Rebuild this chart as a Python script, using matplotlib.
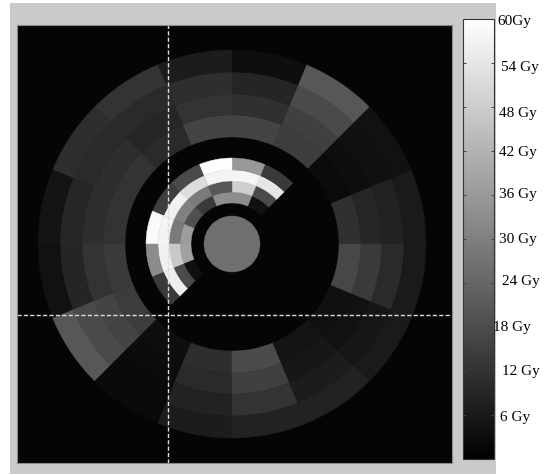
import matplotlib
matplotlib.use('Agg')
from matplotlib import pyplot as plt
from matplotlib.patches import Wedge, Circle, Rectangle
from matplotlib.collections import PatchCollection
from matplotlib.colors import Normalize
import numpy

# dose per segment [Gy], rings listed inner -> outer
# inner block: 8 sectors of 22.5 deg starting at 45 deg (ccw)
inner_doses = [
    [4.2, 17.4, 54.1, 13.6],
    [33.0, 48.7, 57.6, 36.0],
    [33.4, 20.7, 57.4, 59.3],
    [13.6, 28.7, 51.8, 17.4],
    [18.8, 30.1, 56.5, 14.6],
    [36.7, 28.7, 57.4, 58.8],
    [37.6, 47.0, 56.5, 33.0],
    [3.8, 17.4, 56.0, 13.6],
]
# outer block: 16 sectors of 22.5 deg starting at 0 deg (ccw)
outer_doses = [
    [11.3, 9.0, 8.0, 6.1],
    [2.8, 3.3, 3.8, 4.0],
    [14.4, 15.1, 17.4, 20.5],
    [16.0, 11.3, 8.7, 3.3],
    [16.0, 12.0, 10.8, 6.6],
    [9.9, 9.0, 9.9, 12.0],
    [12.0, 10.8, 9.9, 10.8],
    [12.0, 10.8, 9.0, 4.9],
    [13.6, 12.0, 8.7, 4.0],
    [14.1, 16.0, 17.4, 20.5],
    [3.5, 3.0, 2.5, 2.5],
    [10.8, 9.9, 8.0, 6.6],
    [17.6, 15.1, 12.0, 8.0],
    [4.7, 5.6, 6.6, 8.0],
    [3.8, 4.2, 5.2, 6.1],
    [16.7, 13.6, 9.9, 6.1],
]
core_dose = 26.4
background_dose = 1.2

core_radius = 28
inner_edges = [41, 52, 63, 74, 86]
outer_edges = [107, 129, 150, 172, 194]
inner_start = 45.0
outer_start = 0.0
sector_width = 22.5

cbar_ticks = [6, 12, 18, 24, 30, 36, 42, 48, 54]
cbar_labels = ['60Gy', '54 Gy', '48 Gy', '42 Gy', '36 Gy', '30 Gy', '24 Gy', '18 Gy', '12 Gy', '6 Gy']
label_x = [497, 501, 499, 499, 499, 499, 502, 493, 502, 500]   # pixels
label_y = [21.7, 68, 113, 153, 194, 240, 282, 328, 372, 417]   # pixels from top

crosshair_x = -64
crosshair_y = -71

W, H = 544, 475
fig = plt.figure(figsize=(W/100., H/100.), dpi=100)
fig.patch.set_facecolor('white')
fig.patches.append(Rectangle((10./W, 1-474./H), 486./W, 471./H,
                             transform=fig.transFigure, facecolor='#c9cac9',
                             edgecolor='none', zorder=-10))

ax = fig.add_axes([17./W, 1-463./H, 435./W, 438./H])
norm = Normalize(0, 60)
cmap = plt.get_cmap('gray')
ax.set_facecolor(cmap(norm(background_dose)))

patches = []
values = []
for k, rings in enumerate(inner_doses):
    t1 = inner_start + k*sector_width
    for j, d in enumerate(rings):
        r0, r1 = inner_edges[j], inner_edges[j+1]
        patches.append(Wedge((0, 0), r1, t1, t1+sector_width, width=r1-r0))
        values.append(d)
for k, rings in enumerate(outer_doses):
    t1 = outer_start + k*sector_width
    for j, d in enumerate(rings):
        r0, r1 = outer_edges[j], outer_edges[j+1]
        patches.append(Wedge((0, 0), r1, t1, t1+sector_width, width=r1-r0))
        values.append(d)
patches.append(Circle((0, 0), core_radius))
values.append(core_dose)

coll = PatchCollection(patches, cmap=cmap, norm=norm, edgecolor='face', linewidth=0.3)
coll.set_array(numpy.array(values))
ax.add_collection(coll)

ax.axvline(crosshair_x, color='#dcdcdc', lw=1.0, linestyle=(0, (3, 1.6)))
ax.axhline(crosshair_y, color='#dcdcdc', lw=1.0, linestyle=(0, (3, 1.6)))

ax.set_xlim(-215, 220)
ax.set_ylim(-219, 219)
ax.set_xticks([])
ax.set_yticks([])
for s in ax.spines.values():
    s.set_color('#8a8a8a')
    s.set_linewidth(0.8)

cax = fig.add_axes([463./W, 1-459./H, 31./W, 440./H])
cb = fig.colorbar(coll, cax=cax)
cb.outline.set_edgecolor('#333333')
cb.outline.set_linewidth(0.8)
cax.set_yticks(cbar_ticks)
cax.set_yticklabels([])
cax.tick_params(axis='y', direction='in', left=True, right=True, length=2.5,
                width=0.7, color='#444444')

for txt, px, py in zip(cbar_labels, label_x, label_y):
    fig.text(px/float(W), 1-py/float(H), txt, ha='left', va='center',
             fontsize=11, family='Liberation Serif', color='black')

fig.savefig('out.png', dpi=100)
